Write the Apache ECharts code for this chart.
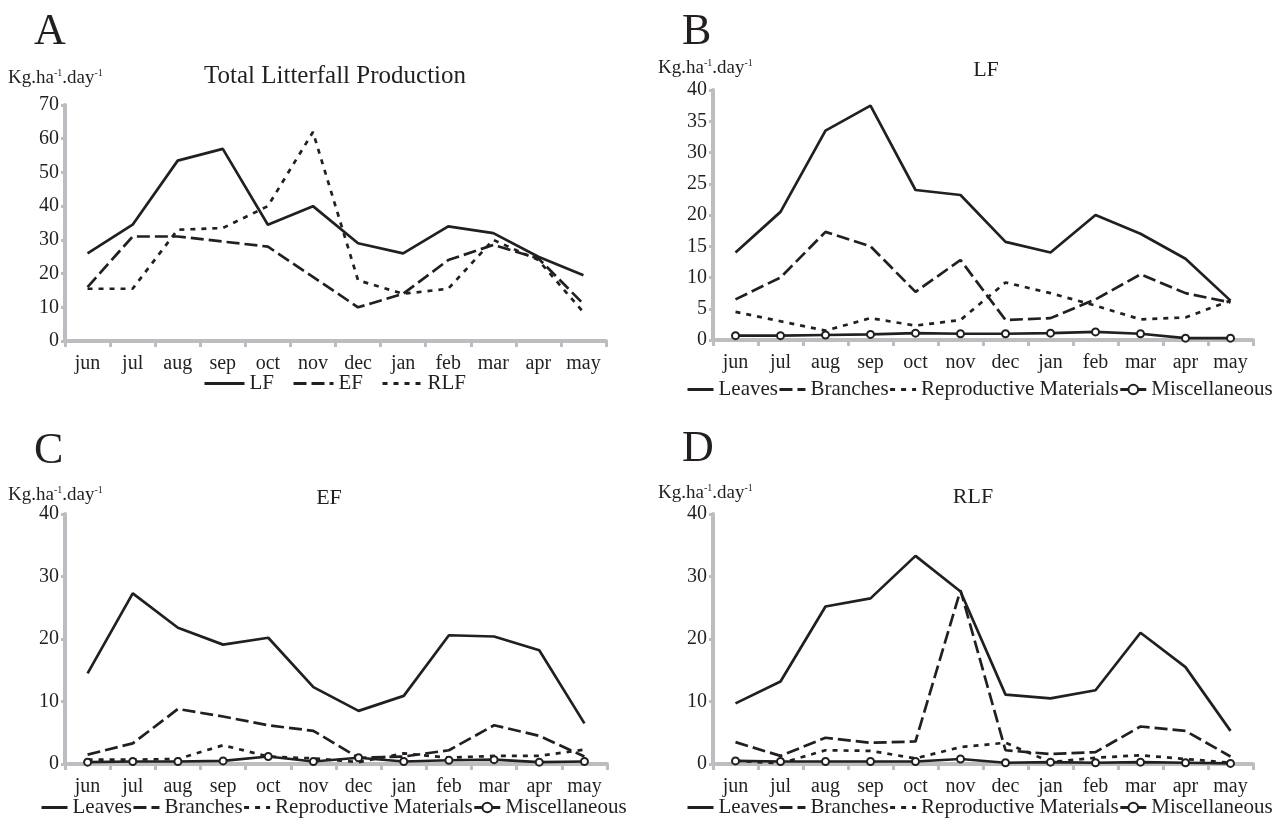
<!DOCTYPE html>
<html><head><meta charset="utf-8">
<script src="https://cdn.jsdelivr.net/npm/echarts@6/dist/echarts.min.js"></script>
<style>html,body{margin:0;padding:0;background:#fff}#c{width:1273px;height:824px}</style>
</head><body><div id="c"></div>
<script>
const months = ['jun','jul','aug','sep','oct','nov','dec','jan','feb','mar','apr','may'];

// Panel A: Total litterfall production
const totalLF  = [26, 34.5, 53.5, 57, 34.5, 40, 29, 26, 34, 32, 25, 19.5];
const totalEF  = [16, 31, 31, 29.5, 28, 19, 10, 14, 24, 28.5, 24.5, 11];
const totalRLF = [15.5, 15.5, 33, 33.5, 40, 62, 18, 14, 15.5, 30, 24, 8.5];

// Panel B: LF fractions
const lfLeaves = [14, 20.5, 33.5, 37.5, 24, 23.2, 15.7, 14, 20, 17, 13, 6.3];
const lfBranches = [6.5, 10, 17.3, 15, 7.7, 12.8, 3.2, 3.5, 6.5, 10.5, 7.5, 6];
const lfRepro = [4.5, 3, 1.5, 3.5, 2.3, 3.2, 9.2, 7.5, 5.5, 3.3, 3.6, 6.3];
const lfMisc = [0.7, 0.7, 0.8, 0.9, 1.1, 1.0, 1.0, 1.1, 1.3, 1.0, 0.3, 0.3];

// Panel C: EF fractions
const efLeaves = [14.5, 27.3, 21.8, 19.1, 20.2, 12.3, 8.5, 10.9, 20.6, 20.4, 18.2, 6.5];
const efBranches = [1.5, 3.3, 8.8, 7.6, 6.2, 5.3, 1.0, 1.2, 2.2, 6.2, 4.5, 1.2];
const efRepro = [0.7, 0.7, 0.8, 3.0, 1.2, 0.9, 0.3, 1.7, 1.0, 1.3, 1.3, 2.3];
const efMisc = [0.3, 0.4, 0.4, 0.5, 1.2, 0.4, 1.0, 0.4, 0.6, 0.7, 0.3, 0.4];

// Panel D: RLF fractions
const rlfLeaves = [9.7, 13.2, 25.2, 26.5, 33.3, 27.6, 11.1, 10.5, 11.8, 21, 15.5, 5.3];
const rlfBranches = [3.5, 1.3, 4.2, 3.4, 3.6, 27.8, 2.2, 1.6, 1.9, 6.0, 5.3, 1.2];
const rlfRepro = [0.5, 0.1, 2.2, 2.1, 0.9, 2.7, 3.4, 0.3, 1.0, 1.4, 0.8, 0.2];
const rlfMisc = [0.5, 0.4, 0.4, 0.4, 0.4, 0.8, 0.2, 0.3, 0.2, 0.3, 0.2, 0.1];

const panelTitles = ['Total Litterfall Production', 'LF', 'EF', 'RLF'];
const panelLetters = ['A', 'B', 'C', 'D'];
const fractionNames = ['Leaves', 'Branches', 'Reproductive Materials', 'Miscellaneous'];
const totalNames = ['LF', 'EF', 'RLF'];

const FONT = 'Liberation Serif, Times New Roman, serif';
const INK = '#231f20';
const AXIS = '#bcbdc0';

const grids = [
  {left: 65, top: 105, width: 541, height: 236},
  {left: 713, top: 90, width: 540, height: 250},
  {left: 65, top: 514, width: 542, height: 250},
  {left: 713, top: 514, width: 540, height: 250}
];
const yRanges = [[0,70,10],[0,40,5],[0,40,10],[0,40,10]];

const xAxes = grids.map((g, i) => ({
  type: 'category', gridIndex: i, data: months, boundaryGap: true,
  axisLine: {lineStyle: {color: AXIS, width: 4}},
  axisTick: {show: true, length: 6, lineStyle: {color: AXIS, width: 3}},
  axisLabel: {fontFamily: FONT, fontSize: 20, color: INK, margin: 13}
}));
const yAxes = grids.map((g, i) => ({
  type: 'value', gridIndex: i, min: yRanges[i][0], max: yRanges[i][1], interval: yRanges[i][2],
  axisLine: {show: true, lineStyle: {color: AXIS, width: 4}},
  axisTick: {show: true, length: 4, lineStyle: {color: AXIS, width: 3}},
  splitLine: {show: false},
  axisLabel: {fontFamily: FONT, fontSize: 20, color: INK, margin: 6}
}));

const longDash = [13, 5];
const shortDash = [5, 6];
function line(name, data, idx, type, marker) {
  return {
    type: 'line', name, data, xAxisIndex: idx, yAxisIndex: idx,
    symbol: marker ? 'emptyCircle' : 'none', symbolSize: 7,
    itemStyle: {color: INK, borderColor: INK, borderWidth: 2},
    lineStyle: {color: INK, width: 2.7, type: type},
    animation: false, z: marker ? 3 : 2
  };
}
const series = [
  line('LF', totalLF, 0, 'solid'),
  line('EF', totalEF, 0, longDash),
  line('RLF', totalRLF, 0, shortDash),
  line('Leaves', lfLeaves, 1, 'solid'),
  line('Branches', lfBranches, 1, longDash),
  line('Reproductive Materials', lfRepro, 1, shortDash),
  line('Miscellaneous', lfMisc, 1, 'solid', true),
  line('Leaves', efLeaves, 2, 'solid'),
  line('Branches', efBranches, 2, longDash),
  line('Reproductive Materials', efRepro, 2, shortDash),
  line('Miscellaneous', efMisc, 2, 'solid', true),
  line('Leaves', rlfLeaves, 3, 'solid'),
  line('Branches', rlfBranches, 3, longDash),
  line('Reproductive Materials', rlfRepro, 3, shortDash),
  line('Miscellaneous', rlfMisc, 3, 'solid', true)
];

const legendText = {fontFamily: FONT, fontSize: 21, color: INK};
const legendLine = {width: 3};
const hideMarker = {opacity: 0};
const totalLegendData = totalNames.map(n => ({name: n, itemStyle: hideMarker}));
const fracLegendData = fractionNames.map(n => n === 'Miscellaneous' ? {name: n} : {name: n, itemStyle: hideMarker});
function fracLegend(left, top) {
  return {data: fracLegendData, left, top, width: 620, padding: 0, itemWidth: 26, itemHeight: 12, itemGap: 0,
    lineStyle: legendLine, textStyle: legendText, selectedMode: false};
}
const legends = [
  {data: totalLegendData, left: 203, top: 373, width: 400, padding: 0, itemWidth: 40, itemHeight: 12, itemGap: 18,
    lineStyle: legendLine, textStyle: legendText, selectedMode: false},
  fracLegend(686, 379),
  fracLegend(40, 797),
  fracLegend(686, 797)
];

const letterPos = [[34, 32], [682, 32], [34, 451], [682, 449]];
const titlePos = [[335, 76, 25], [986, 70, 22], [329, 498, 22], [973, 497, 22]];
const unitPos = [[8, 78], [658, 68], [8, 495], [658, 493]];

const graphics = [];
panelLetters.forEach((t, i) => graphics.push({
  type: 'text', x: letterPos[i][0], y: letterPos[i][1],
  style: {text: t, font: '44px ' + FONT, fill: INK, textVerticalAlign: 'middle'}
}));
panelTitles.forEach((t, i) => graphics.push({
  type: 'text', x: titlePos[i][0], y: titlePos[i][1],
  style: {text: t, font: titlePos[i][2] + 'px ' + FONT, fill: INK, textAlign: 'center', textVerticalAlign: 'middle'}
}));
unitPos.forEach((p) => graphics.push({
  type: 'text', x: p[0], y: p[1],
  style: {
    text: '{a|Kg.ha}{s|-1}{a|.day}{s|-1}', textVerticalAlign: 'middle',
    rich: {
      a: {fontFamily: FONT, fontSize: 19, fill: INK, color: INK, lineHeight: 20, verticalAlign: 'bottom'},
      s: {fontFamily: FONT, fontSize: 10, fill: INK, color: INK, lineHeight: 20, verticalAlign: 'top'}
    }
  }
}));

const chart = echarts.init(document.getElementById('c'), null, {renderer: 'canvas'});
chart.setOption({
  backgroundColor: '#fff',
  animation: false,
  grid: grids,
  xAxis: xAxes,
  yAxis: yAxes,
  legend: legends,
  series: series,
  graphic: graphics
});
</script></body></html>
